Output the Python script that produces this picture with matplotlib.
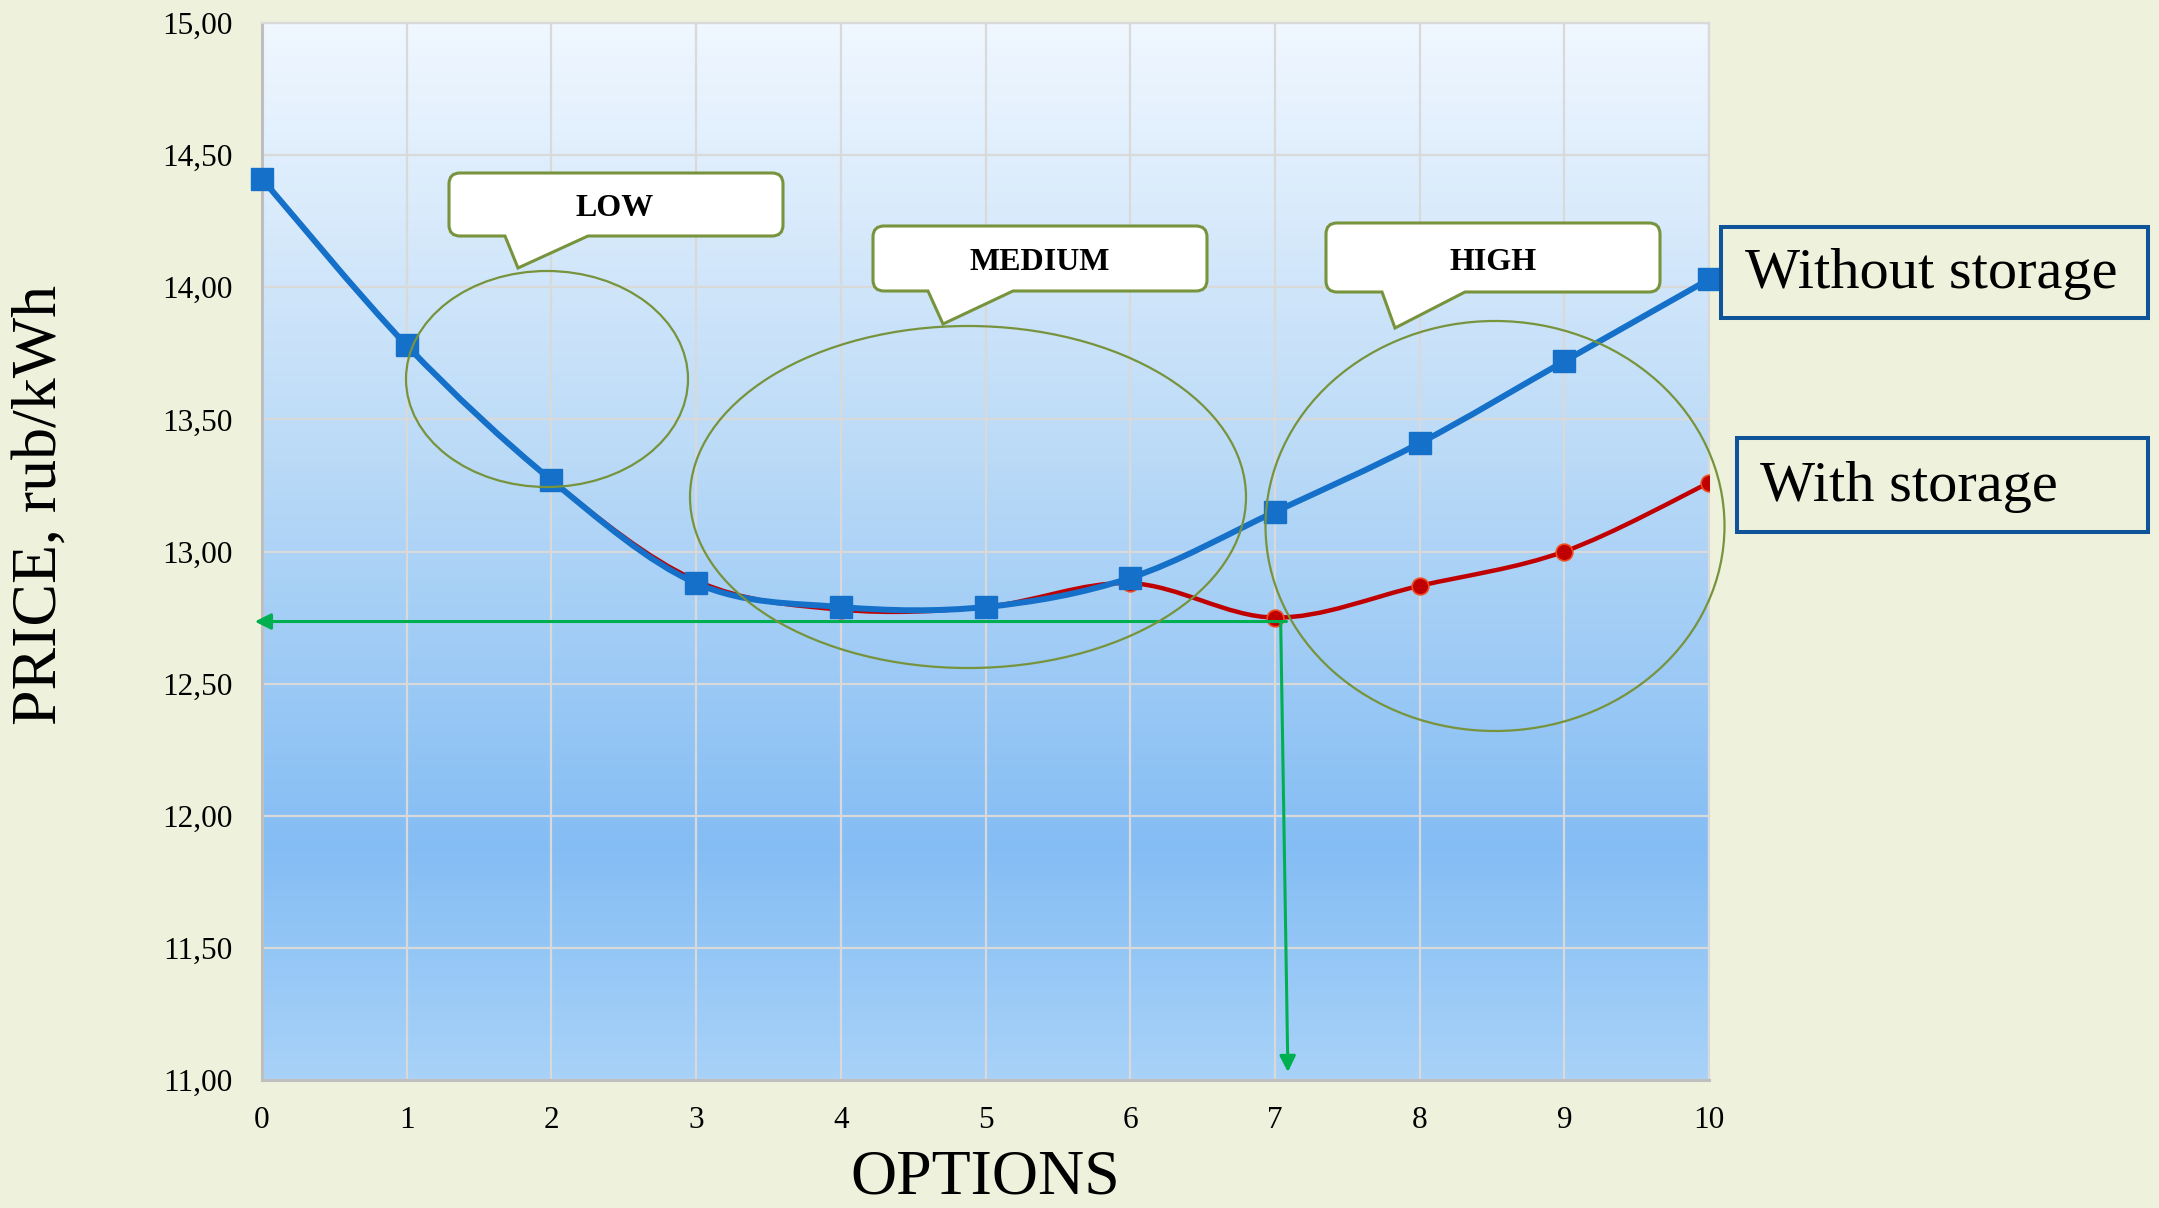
import numpy as np
import matplotlib.pyplot as plt
import matplotlib.transforms as mtransforms
from matplotlib.path import Path
from matplotlib.patches import PathPatch, Ellipse, Rectangle
from matplotlib.colors import LinearSegmentedColormap
from matplotlib.ticker import FuncFormatter

# price per option, rub/kWh
options = list(range(11))
price_without = [14.41, 13.78, 13.27, 12.88, 12.79, 12.79, 12.90, 13.15, 13.41, 13.72, 14.03]
price_with = [14.41, 13.78, 13.27, 12.89, 12.78, 12.79, 12.88, 12.75, 12.87, 13.00, 13.26]
y_ticks = [11.0, 11.5, 12.0, 12.5, 13.0, 13.5, 14.0, 14.5, 15.0]
best_option = 7
best_price = 12.735

W, H = 2159, 1208
SERIF = 'Liberation Serif'
OLIVE = '#77933C'
GREEN = '#00B050'

plt.rcParams['font.family'] = SERIF

fig = plt.figure(figsize=(W / 100, H / 100), dpi=100, facecolor='#EEF1DC')
ax = fig.add_axes([262 / W, 1 - 1080 / H, (1709 - 262) / W, (1080 - 23) / H])

# pixel coords measured from the top-left corner of the figure
px = mtransforms.Affine2D().scale(1 / W, -1 / H).translate(0, 1) + fig.transFigure

# blue gradient plot area
grad = LinearSegmentedColormap.from_list(
    'sky', [(0.0, '#A8D2F8'), (0.22, '#84BDF4'), (0.6, '#BCDBF7'), (1.0, '#F0F7FF')])
ax.imshow(np.linspace(0, 1, 256).reshape(-1, 1), cmap=grad, origin='lower',
          extent=[0, 1, 0, 1], transform=ax.transAxes, aspect='auto', zorder=0)


def smooth_path(xs, ys):
    # catmull-rom through the points, written as cubic bezier segments
    pts = np.column_stack([xs, ys]).astype(float)
    ext = np.vstack([pts[0], pts, pts[-1]])
    verts, codes = [pts[0]], [Path.MOVETO]
    for i in range(len(pts) - 1):
        p0, p1, p2, p3 = ext[i], ext[i + 1], ext[i + 2], ext[i + 3]
        verts += [p1 + (p2 - p0) / 6, p2 - (p3 - p1) / 6, p2]
        codes += [Path.CURVE4] * 3
    return Path(verts, codes)


ax.add_patch(PathPatch(smooth_path(options, price_with), fill=False,
                       edgecolor='#C00000', lw=3.2, zorder=3))
ax.plot(options, price_with, ls='none', marker='o', ms=12, mfc='#C00000',
        mec='#F04A1E', mew=1.2, zorder=4)
ax.add_patch(PathPatch(smooth_path(options, price_without), fill=False,
                       edgecolor='#1470C8', lw=4.3, zorder=5, capstyle='round'))
ax.plot(options, price_without, ls='none', marker='s', ms=16.5, mfc='#1470C8',
        mec='#1470C8', zorder=6, clip_on=False)

ax.set_xlim(0, 10)
ax.set_ylim(11, 15)
ax.set_xticks(options)
ax.set_yticks(y_ticks)
ax.yaxis.set_major_formatter(FuncFormatter(lambda v, _: f'{v:.2f}'.replace('.', ',')))
ax.tick_params(length=0, labelsize=22.5)
ax.tick_params(axis='y', pad=21)
ax.tick_params(axis='x', pad=19)
ax.grid(True, color='#D9D9D9', lw=1.6, zorder=1)
ax.set_axisbelow(True)
for side in ('left', 'bottom'):
    ax.spines[side].set_color('#BFBFBF')
    ax.spines[side].set_linewidth(2.2)
for side in ('top', 'right'):
    ax.spines[side].set_color('#D9D9D9')
    ax.spines[side].set_linewidth(1.6)

# arrows to the cheapest option with storage
arrow = dict(arrowstyle='-|>', color=GREEN, lw=2.2, mutation_scale=24,
             shrinkA=0, shrinkB=0)
ax.annotate('', xy=(-0.05, best_price), xytext=(best_option + 0.08, best_price),
            arrowprops=arrow, annotation_clip=False, zorder=7)
ax.annotate('', xy=(best_option + 0.09, 11.03), xytext=(best_option + 0.04, best_price),
            arrowprops=arrow, annotation_clip=False, zorder=7)

# group ellipses
for cx, cy, ew, eh in [(547, 379, 282, 216), (968, 497, 556, 342), (1495, 526, 459, 410)]:
    fig.add_artist(Ellipse((cx, cy), ew, eh, fill=False, edgecolor=OLIVE, lw=1.6,
                           transform=px))


def callout(x0, y0, x1, y1, base_a, base_b, tip, r=11):
    verts = [(x0 + r, y0), (x1 - r, y0), (x1, y0), (x1, y0 + r), (x1, y1 - r),
             (x1, y1), (x1 - r, y1), (base_b, y1), tip, (base_a, y1), (x0 + r, y1),
             (x0, y1), (x0, y1 - r), (x0, y0 + r), (x0, y0), (x0 + r, y0), (x0 + r, y0)]
    codes = [Path.MOVETO, Path.LINETO, Path.CURVE3, Path.CURVE3, Path.LINETO,
             Path.CURVE3, Path.CURVE3, Path.LINETO, Path.LINETO, Path.LINETO, Path.LINETO,
             Path.CURVE3, Path.CURVE3, Path.LINETO, Path.CURVE3, Path.CURVE3, Path.CLOSEPOLY]
    return PathPatch(Path(verts, codes), facecolor='white', edgecolor=OLIVE, lw=2.2,
                     transform=px)


for label, box, tail, tip, txt in [
        ('LOW', (449, 173, 783, 236), (505, 588), (518, 268), (615, 209)),
        ('MEDIUM', (873, 226, 1207, 291), (928, 1013), (943, 324), (1040, 263)),
        ('HIGH', (1326, 223, 1660, 292), (1382, 1465), (1395, 328), (1493, 262))]:
    fig.add_artist(callout(*box, *tail, tip))
    fig.text(*txt, label, transform=px, ha='center', va='center', fontsize=23,
             fontweight='bold', color='black')

# series labels
for name, (x0, y0, x1, y1), tx in [('Without storage', (1721, 227, 2148, 318), 1745),
                                   ('With storage', (1737, 438, 2148, 532), 1760)]:
    fig.add_artist(Rectangle((x0, y0), x1 - x0, y1 - y0, fill=False, edgecolor='#0F5499',
                             lw=2.9, transform=px))
    fig.text(tx, (y0 + y1) / 2 + 2, name, transform=px, ha='left', va='center',
             fontsize=42, color='black')

fig.text(985, 1207, 'OPTIONS', transform=px, ha='center', va='bottom', fontsize=46)
fig.text(41, 505, 'PRICE, rub/kWh', transform=px, ha='center', va='center',
         rotation=90, fontsize=46)

fig.savefig('out.png', dpi=100, facecolor=fig.get_facecolor())
